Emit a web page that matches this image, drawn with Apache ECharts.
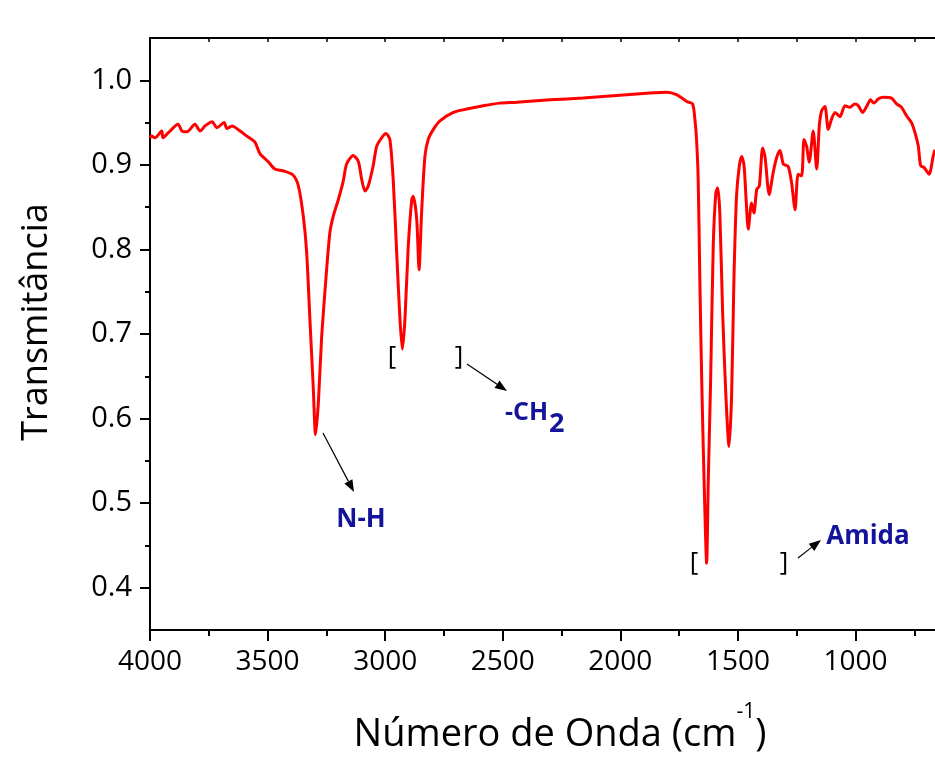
<!DOCTYPE html>
<html><head><meta charset="utf-8">
<script src="https://cdn.jsdelivr.net/npm/echarts@6/dist/echarts.min.js"></script>
<style>html,body{margin:0;padding:0;background:#fff}#c{width:935px;height:757px}</style>
</head><body><div id="c"></div>
<script>
const wavenumber = [4000,3993,3979,3950,3945,3915,3881,3864,3843,3809,3787,
3766,3745,3736,3715,3685,3673,3651,3617,3588,3554,
3532,3498,3469,3435,3392,3369,3348,3334,3320,3306,
3296,3284,3270,3249,3235,3221,3199,3178,3164,3136,
3114,3100,3086,3072,3051,3036,3015,2997,2980,2966,
2951,2937,2927,2916,2902,2887,2881,2866,2856,2845,
2831,2817,2795,2767,2710,2653,2583,2512,2441,2299,
2158,2016,1874,1803,1761,1718,1693,1683,1676,1669,
1662,1654,1644,1633,1626,1616,1605,1594,1586,1577,
1565,1551,1538,1527,1517,1506,1494,1484,1474,1466,
1456,1442,1432,1420,1409,1395,1385,1367,1350,1335,
1321,1307,1286,1272,1257,1244,1229,1219,1208,1197,
1180,1165,1154,1144,1130,1116,1102,1087,1066,1045,
1024,1003,988,970,953,936,922,903,882,847,
825,804,783,762,747,733,723,709,687,670,662];
const transmittance = [0.932,0.934,0.932,0.940,0.932,0.940,0.948,0.940,0.939,0.948,0.940,
0.946,0.950,0.951,0.944,0.950,0.943,0.946,0.940,0.934,0.927,
0.913,0.904,0.895,0.893,0.888,0.875,0.839,0.797,0.717,0.638,
0.581,0.619,0.697,0.776,0.820,0.839,0.859,0.881,0.901,0.911,
0.904,0.883,0.869,0.875,0.899,0.922,0.932,0.937,0.930,0.883,
0.796,0.717,0.682,0.717,0.803,0.859,0.863,0.836,0.776,0.844,
0.910,0.930,0.942,0.952,0.962,0.966,0.970,0.973,0.974,0.977,
0.979,0.982,0.985,0.986,0.983,0.975,0.972,0.954,0.930,0.883,
0.765,0.646,0.528,0.429,0.528,0.646,0.804,0.867,0.873,0.843,
0.725,0.626,0.567,0.626,0.765,0.863,0.899,0.910,0.899,0.863,
0.824,0.855,0.843,0.871,0.875,0.920,0.910,0.865,0.891,0.909,
0.917,0.901,0.898,0.879,0.847,0.889,0.887,0.930,0.922,0.903,
0.940,0.895,0.946,0.964,0.969,0.942,0.954,0.962,0.957,0.970,
0.968,0.972,0.970,0.962,0.969,0.977,0.973,0.978,0.980,0.979,
0.972,0.968,0.958,0.950,0.938,0.922,0.899,0.897,0.889,0.910,0.918];
const xTickValues = [4000,3500,3000,2500,2000,1500,1000];
const xMinorTickValues = [3750,3250,2750,2250,1750,1250,750];
const yTickValues = [0.4,0.5,0.6,0.7,0.8,0.9,1.0];
const yMinorTickValues = [0.45,0.55,0.65,0.75,0.85,0.95];
const xTitle = 'Número de Onda (cm';
const yTitle = 'Transmitância';
const annotations = ['N-H', '-CH', 'Amida'];

const FONT = '"Open Sans", "Noto Sans", sans-serif';
const BLUE = '#14149a';
const X_MIN = 662, X_MAX = 4000, Y_MIN = 0.35, Y_MAX = 1.05;
const series = wavenumber.map((w, i) => [w, transmittance[i]]);

function arrow(x1, y1, x2, y2) {
  const ang = Math.atan2(y2 - y1, x2 - x1);
  const L = 12, W = 4.5;
  const bx = x2 - L * Math.cos(ang), by = y2 - L * Math.sin(ang);
  const px = -Math.sin(ang) * W, py = Math.cos(ang) * W;
  return [
    {type: 'line', shape: {x1, y1, x2: bx, y2: by}, style: {stroke: '#000', lineWidth: 1.2}, z: 10},
    {type: 'polygon', shape: {points: [[x2, y2], [bx + px, by + py], [bx - px, by - py]]}, style: {fill: '#000'}, z: 10}
  ];
}
function txt(text, x, y, opts, extra) {
  return Object.assign({type: 'text', x, y, z: 10, style: Object.assign({
    text, fontFamily: FONT, fontSize: 26, fill: '#000', align: 'center', verticalAlign: 'middle'
  }, opts || {})}, extra || {});
}
const blk = {color: '#000', width: 2};
function xAx(pos, tickVals, len, inside, labels) {
  return {
    type: 'value', inverse: true, min: X_MIN, max: X_MAX, position: pos,
    axisLine: {show: pos === 'bottom' ? true : tickVals === xTickValues, onZero: false, lineStyle: blk},
    axisTick: {show: true, inside, length: len, customValues: tickVals, lineStyle: {color: '#000', width: inside ? 1.5 : 2}},
    axisLabel: labels ? {customValues: tickVals, formatter: v => String(v), fontFamily: FONT, fontSize: 28, color: '#000', margin: 18} : {show: false},
    splitLine: {show: false}
  };
}
const chart = echarts.init(document.getElementById('c'), null, {renderer: 'canvas'});
chart.setOption({
  backgroundColor: '#fff',
  animation: false,
  grid: {left: 150, top: 38, right: 0, bottom: 127, containLabel: false},
  xAxis: [
    xAx('bottom', xTickValues, 11, false, true),
    xAx('bottom', xMinorTickValues, 6, false, false),
    xAx('top', xTickValues, 4, true, false),
    xAx('top', xMinorTickValues, 4, true, false)
  ],
  yAxis: [{
    type: 'value', min: Y_MIN, max: Y_MAX, position: 'left',
    axisLine: {show: true, onZero: false, lineStyle: blk},
    axisTick: {show: true, length: 10, customValues: yTickValues, lineStyle: blk},
    axisLabel: {customValues: yTickValues, formatter: v => v.toFixed(1), fontFamily: FONT, fontSize: 29, color: '#000', margin: 18},
    splitLine: {show: false}
  }, {
    type: 'value', min: Y_MIN, max: Y_MAX, position: 'left', offset: 0,
    axisLine: {show: false},
    axisTick: {show: true, length: 5, customValues: yMinorTickValues, lineStyle: blk},
    axisLabel: {show: false}, splitLine: {show: false}
  }],
  series: [{
    type: 'line', data: series, xAxisIndex: 0, yAxisIndex: 0,
    showSymbol: false, smooth: 0.25, clip: true,
    lineStyle: {color: '#ff0000', width: 3}
  }],
  graphic: [
    txt(yTitle, 37, 322, {fontSize: 36}, {rotation: Math.PI / 2}),
    txt('{a|' + xTitle + '}{s|-1}{a|)}', 560, 728, {
      rich: {
        a: {fontFamily: FONT, fontSize: 38, lineHeight: 52, verticalAlign: 'bottom', fill: '#000'},
        s: {fontFamily: FONT, fontSize: 21, lineHeight: 22, verticalAlign: 'top', fill: '#000'}
      }
    }),
    txt('[', 392, 357), txt(']', 459, 357),
    txt('[', 694, 563), txt(']', 784, 563),
    txt(annotations[0], 361, 520, {fontWeight: 'bold', fill: BLUE, fontSize: 26}),
    txt(annotations[1], 505, 413, {fontWeight: 'bold', fill: BLUE, fontSize: 25, align: 'left'}),
    txt('2', 549, 424, {fontWeight: 'bold', fill: BLUE, fontSize: 27, align: 'left'}),
    txt(annotations[2], 868, 537, {fontWeight: 'bold', fill: BLUE, fontSize: 26}),
    ...arrow(323, 433, 354, 492),
    ...arrow(467, 364, 507, 391),
    ...arrow(798, 558, 821, 540)
  ]
});
</script>
</body></html>
